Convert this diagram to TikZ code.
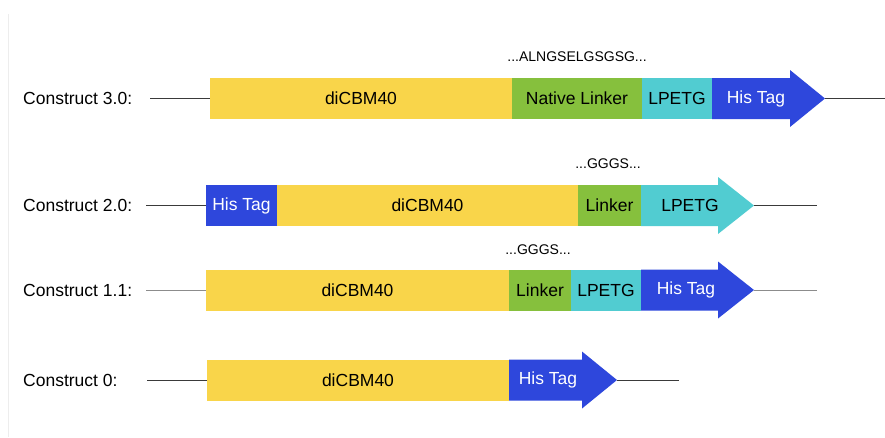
\documentclass[tikz,border=0pt]{standalone}
\usepackage{fontspec}
\setmainfont{Liberation Sans}
\definecolor{cyel}{HTML}{F9D54A}
\definecolor{cgrn}{HTML}{86C03D}
\definecolor{ccya}{HTML}{51CCD1}
\definecolor{cblu}{HTML}{2E47DC}
\definecolor{wdark}{HTML}{3A3A3A}
\definecolor{wgray}{HTML}{8C8C8C}
\definecolor{frame}{HTML}{EDEDED}
\newcommand\fbig{\fontsize{17.5}{21}\selectfont}
\newcommand\fsmall{\fontsize{14}{16}\selectfont}
% #1 start x, #2 head base x, #3 tip x, #4 centre y, #5 colour
\newcommand\arrowseg[5]{%
  \fill[#5] ({#1},{#4-20.5}) -- ({#2},{#4-20.5}) -- ({#2},{#4-28.5}) -- ({#3},{#4})
    -- ({#2},{#4+28.5}) -- ({#2},{#4+20.5}) -- ({#1},{#4+20.5}) -- cycle;}
\begin{document}
\begin{tikzpicture}[x=1pt,y=-1pt,
  seg/.style={inner sep=0pt,outer sep=0pt,minimum height=41pt,anchor=west,font=\fbig},
  lab/.style={anchor=west,inner sep=0pt,font=\fbig},
  txt/.style={inner sep=0pt,font=\fbig},
  seq/.style={inner sep=0pt,font=\fsmall},
  wire/.style={line width=0.9pt,draw=wdark},
  wirelight/.style={line width=0.9pt,draw=wgray}]
\useasboundingbox[fill=white] (0,0) rectangle (885,437);
\draw[frame,line width=0.8pt] (8,14) -- (8,437);

% ---------- Construct 3.0 ----------
\node[lab] (c3) at (23,98.5) {Construct 3.0:};
\coordinate (w3) at (150,98.5);
\node[seg,fill=cyel,minimum width=302pt] (d3) at (210,98.5) {diCBM40};
\node[seg,fill=cgrn,minimum width=130pt] (n3) at (512,98.5) {Native Linker};
\node[seg,fill=ccya,minimum width=70pt] (p3) at (642,98.5) {LPETG};
\arrowseg{712}{790}{825}{98.5}{cblu}
\node[txt,text=white] (h3) at (756,98.5) {His Tag};
\coordinate (t3) at (825,98.5);
\coordinate (e3) at (885,98.5);
\draw[wire] (w3) -- (d3.west);
\draw[wire] (t3) -- (e3);
\node[seq] (s3) at (577,57) {...ALNGSELGSGSG...};

% ---------- Construct 2.0 ----------
\node[lab] (c2) at (23,205.5) {Construct 2.0:};
\coordinate (w2) at (146,205.5);
\node[seg,fill=cblu,text=white,minimum width=71pt] (h2) at (206,205.5) {His Tag};
\node[seg,fill=cyel,minimum width=301pt] (d2) at (277,205.5) {diCBM40};
\node[seg,fill=cgrn,minimum width=63pt] (k2) at (578,205.5) {Linker};
\arrowseg{641}{718}{754}{205.5}{ccya}
\node[txt] (p2) at (690,205.5) {LPETG};
\coordinate (t2) at (754,205.5);
\coordinate (e2) at (817,205.5);
\draw[wire] (w2) -- (h2.west);
\draw[wire] (t2) -- (e2);
\node[seq] (s2) at (608,164) {...GGGS...};

% ---------- Construct 1.1 ----------
\node[lab] (c1) at (23,290) {Construct 1.1:};
\coordinate (w1) at (146,290);
\node[seg,fill=cyel,minimum width=303pt] (d1) at (206,290) {diCBM40};
\node[seg,fill=cgrn,minimum width=62pt] (k1) at (509,290) {Linker};
\node[seg,fill=ccya,minimum width=70pt] (p1) at (571,290) {LPETG};
\arrowseg{641}{718}{754}{290}{cblu}
\node[txt,text=white] (h1) at (686,290) {His Tag};
\coordinate (t1) at (754,290);
\coordinate (e1) at (817,290);
\draw[wirelight] (w1) -- (d1.west);
\draw[wirelight] (t1) -- (e1);
\node[seq] (s1) at (538,250) {...GGGS...};

% ---------- Construct 0 ----------
\node[lab] (c0) at (23,380) {Construct 0:};
\coordinate (w0) at (147,380);
\node[seg,fill=cyel,minimum width=302pt] (d0) at (207,380) {diCBM40};
\arrowseg{509}{582}{617}{380}{cblu}
\node[txt,text=white] (h0) at (548,380) {His Tag};
\coordinate (t0) at (617,380);
\coordinate (e0) at (679,380);
\draw[wire] (w0) -- (d0.west);
\draw[wire] (t0) -- (e0);
\end{tikzpicture}
\end{document}
